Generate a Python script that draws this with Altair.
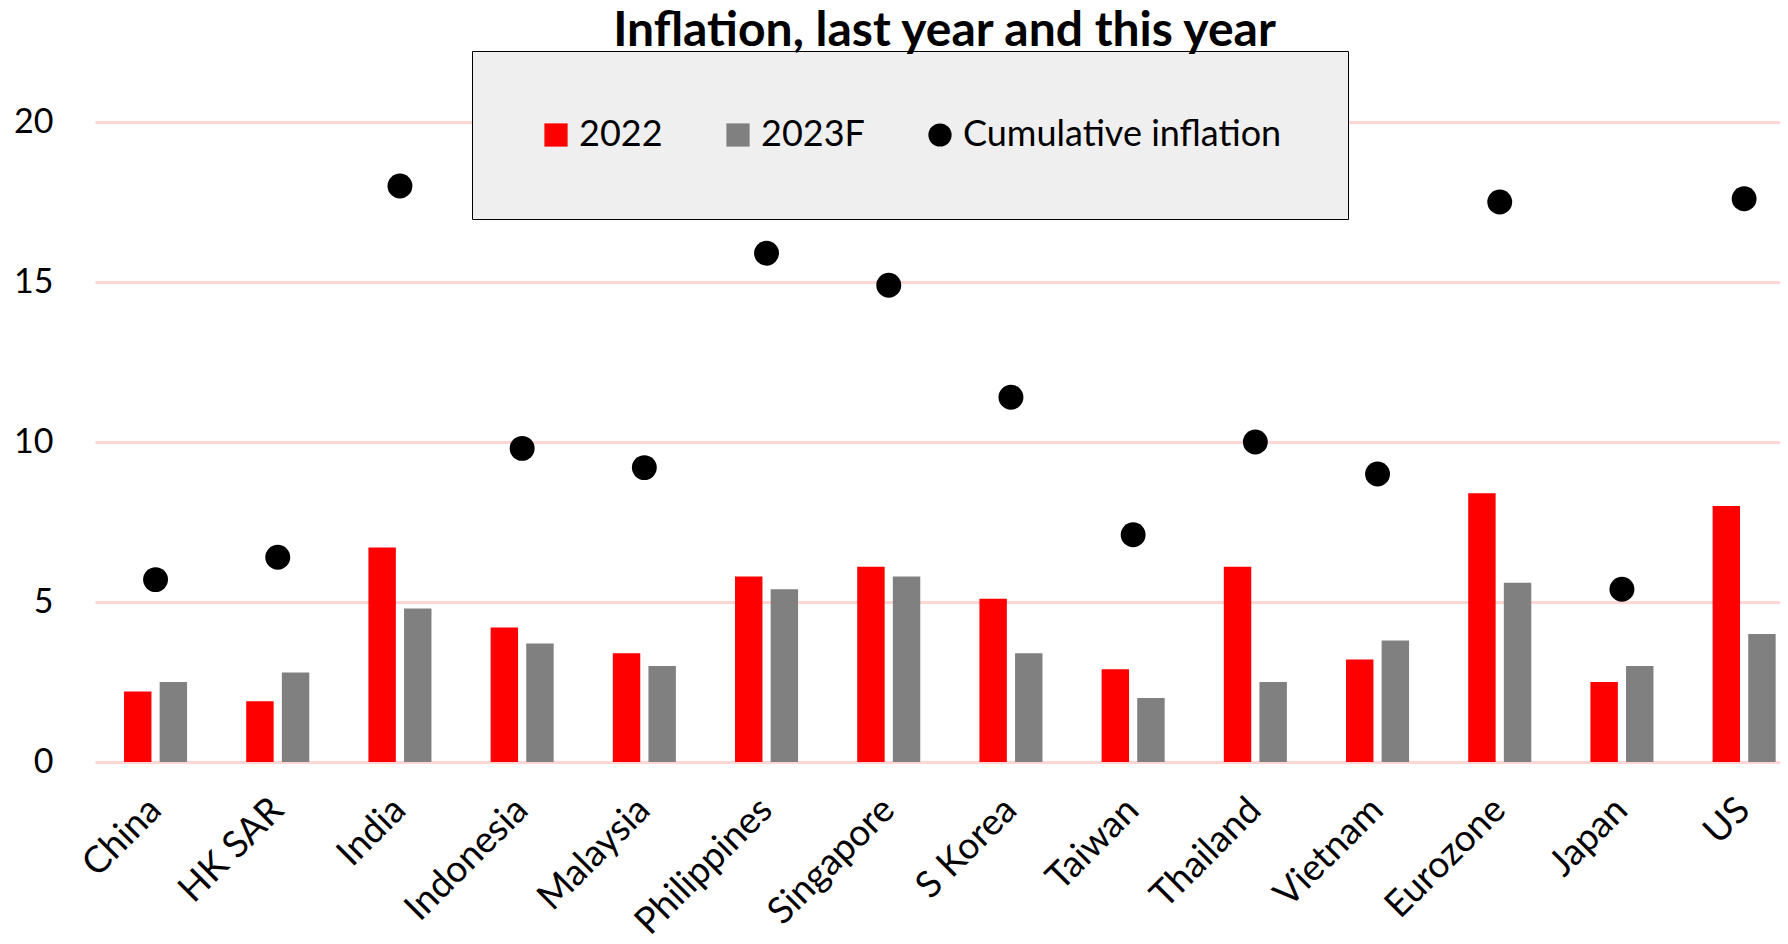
import altair as alt
import pandas as pd

categories = ["China", "HK SAR", "India", "Indonesia", "Malaysia", "Philippines",
              "Singapore", "S Korea", "Taiwan", "Thailand", "Vietnam", "Eurozone",
              "Japan", "US"]
infl_2022 = [2.2, 1.9, 6.7, 4.2, 3.4, 5.8, 6.1, 5.1, 2.9, 6.1, 3.2, 8.4, 2.5, 8.0]
infl_2023f = [2.5, 2.8, 4.8, 3.7, 3.0, 5.4, 5.8, 3.4, 2.0, 2.5, 3.8, 5.6, 3.0, 4.0]
cumulative = [5.7, 6.4, 18.0, 9.8, 9.2, 15.9, 14.9, 11.4, 7.1, 10.0, 9.0, 17.5, 5.4, 17.6]
series_names = ["2022", "2023F", "Cumulative inflation"]
series_colors = ["#ff0000", "#808080", "#000000"]
series_shapes = ["square", "square", "circle"]
y_ticks = [0, 5, 10, 15, 20]

bars = pd.DataFrame(
    [{"cat": c, "series": "2022", "value": v} for c, v in zip(categories, infl_2022)]
    + [{"cat": c, "series": "2023F", "value": v} for c, v in zip(categories, infl_2023f)]
)
dots = pd.DataFrame({"cat": categories, "series": "Cumulative inflation", "value": cumulative})

FONT = "Lato"

legend = alt.Legend(
    orient="none", legendX=377, legendY=-7, direction="horizontal", columns=3,
    title=None, fillColor="#efefef", strokeColor="#000000", padding=66,
    labelFont=FONT, labelFontSize=36, labelColor="#000000", labelOffset=5,
    symbolSize=540, symbolStrokeWidth=0, columnPadding=57, labelLimit=600,
)

color = alt.Color("series:N", scale=alt.Scale(domain=series_names, range=series_colors), legend=legend)

x_axis = alt.Axis(title=None, labelAngle=-45, labelAlign="right", labelBaseline="middle",
                  labelFont=FONT, labelFontSize=37, labelColor="#000000", ticks=False,
                  domain=False, grid=False, labelPadding=42, labelLimit=500, labelOverlap=False)
x_scale = alt.Scale(paddingInner=0.484, paddingOuter=0.1365, align=0.87)
y_enc_axis = alt.Axis(values=y_ticks, title=None, labelFont=FONT, labelFontSize=34,
                      labelColor="#000000", grid=True, gridColor="#ffd5d5", gridWidth=3,
                      domain=False, ticks=False, labelPadding=42)
y_scale = alt.Scale(domain=[0, 22], nice=False)

bar_layer = alt.Chart(bars).mark_bar().encode(
    x=alt.X("cat:N", sort=categories, scale=x_scale, axis=x_axis),
    xOffset=alt.XOffset("series:N", scale=alt.Scale(domain=["2022", "2023F"], paddingInner=0.23)),
    y=alt.Y("value:Q", scale=y_scale, axis=y_enc_axis),
    color=color,
)

dot_layer = alt.Chart(dots).mark_point(filled=True, size=620, opacity=1).encode(
    x=alt.X("cat:N", sort=categories),
    y=alt.Y("value:Q"),
    color=color,
    shape=alt.Shape("series:N", scale=alt.Scale(domain=series_names, range=series_shapes), legend=legend),
)

chart = alt.layer(bar_layer, dot_layer).properties(
    width=1685, height=704,
    title=alt.TitleParams("Inflation, last year and this year", font=FONT, fontSize=48,
                          fontWeight="bold", color="#000000", anchor="middle", offset=2, dx=7, dy=7),
    autosize=alt.AutoSizeParams(type="none"),
    padding={"left": 87, "top": 50, "right": 0, "bottom": 178},
    background="white",
).configure_view(stroke=None)

chart.save("out.html", embed_options={"renderer": "svg", "actions": False})
